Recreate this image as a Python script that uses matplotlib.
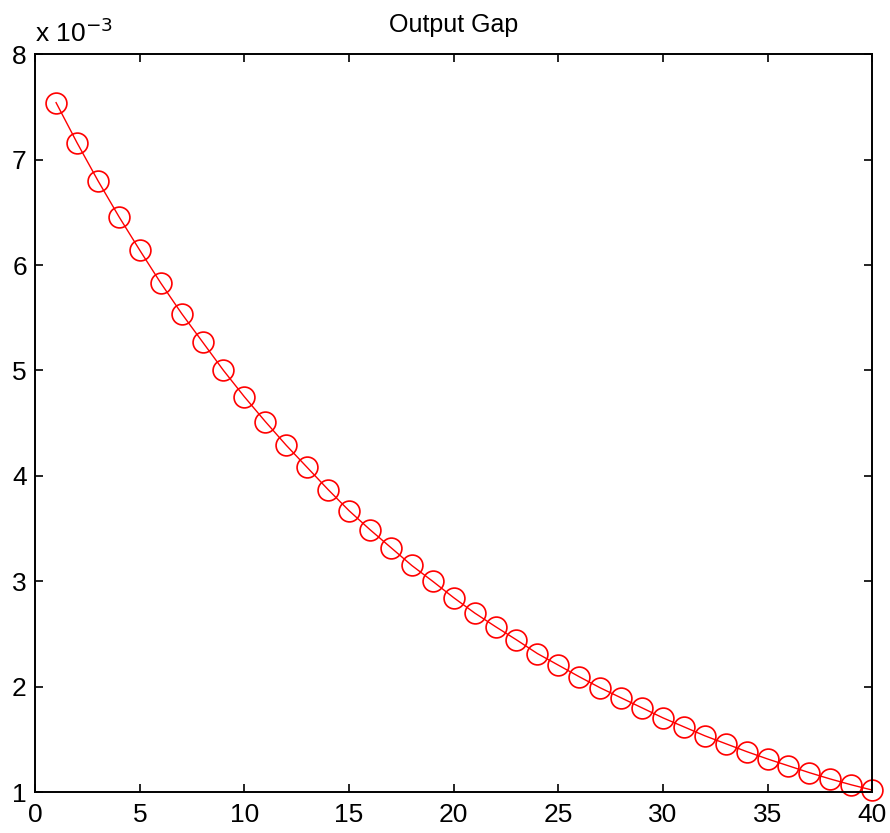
import matplotlib
matplotlib.use('Agg')
from matplotlib import pyplot as plt
from matplotlib.ticker import FuncFormatter

plt.rcParams['font.family'] = ['Liberation Sans', 'DejaVu Sans']

# periods and output gap values (units of 1e-3)
periods = list(range(1, 41))
gap = [7.54, 7.16, 6.80, 6.46, 6.14, 5.83, 5.54, 5.27, 5.00, 4.75,
       4.515, 4.29, 4.08, 3.87, 3.67, 3.49, 3.32, 3.15, 3.00, 2.845,
       2.70, 2.57, 2.445, 2.315, 2.205, 2.095, 1.99, 1.895, 1.80, 1.705,
       1.62, 1.535, 1.46, 1.385, 1.315, 1.25, 1.185, 1.125, 1.07, 1.02]
gap = [g * 1e-3 for g in gap]

xticks = [0, 5, 10, 15, 20, 25, 30, 35, 40]
yticks = [v * 1e-3 for v in range(1, 9)]


def main():
	fig = plt.figure(figsize=(8.9, 8.33), dpi=100)
	ax = fig.add_axes([0.0395, 0.049, 0.9405, 0.886])

	ax.plot(periods, gap, color='red', linewidth=1.0, marker='o',
	        markersize=15, markerfacecolor='none', markeredgecolor='red',
	        markeredgewidth=1.2, clip_on=False)

	ax.set_xlim(0, 40)
	ax.set_ylim(1e-3, 8e-3)
	ax.set_xticks(xticks)
	ax.set_yticks(yticks)
	ax.yaxis.set_major_formatter(FuncFormatter(lambda v, p: '%g' % round(v * 1e3, 6)))

	ax.tick_params(direction='in', top=True, right=True, length=6, width=1.2,
	               labelsize=19)
	ax.tick_params(axis='x', pad=8)
	ax.tick_params(axis='y', pad=6)
	for side in ax.spines.values():
		side.set_linewidth(1.4)

	fig.text(0.5 * (0.0395 + 0.98), 0.9616, 'Output Gap', fontsize=18,
	         ha='center', va='baseline')
	fig.text(0.0393, 0.9496, r'x 10$^{-3}$', fontsize=19, ha='left', va='baseline')

	plt.savefig('out.png', dpi=100)


if __name__ == '__main__':
	main()
